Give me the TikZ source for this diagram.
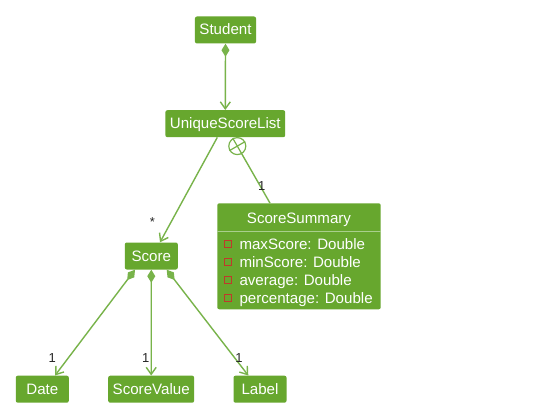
\documentclass[tikz,border=0pt]{standalone}
\usepackage{fontspec}
\setmainfont{Liberation Sans}
\usetikzlibrary{arrows.meta,positioning,calc}
\definecolor{umlg}{HTML}{67A72E}
\definecolor{lng}{HTML}{78B34A}
\definecolor{sepg}{HTML}{A9CF8C}
\definecolor{attrc}{HTML}{C0392B}
\newcommand{\clsfont}{\fontsize{15.1}{17}\selectfont}
\tikzset{
  cls/.style={rectangle, rounded corners=2pt, fill=umlg, text=white, font=\clsfont,
    minimum height=27pt, minimum width=53pt, inner xsep=4.5pt, inner ysep=0pt,
    text height=13pt, text depth=3pt},
  comp/.style={lng, line width=1.4pt,
    {Diamond[length=13pt,width=8pt]}-{Straight Barb[length=7pt,width=10pt]}},
  assoc/.style={lng, line width=1.4pt, -{Straight Barb[length=7pt,width=10pt]}},
  nestc/.style={circle, draw=lng, line width=1.2pt, fill=white, minimum size=17pt, inner sep=0pt},
  mult/.style={font=\fontsize{13}{15}\selectfont, text=black!85, inner sep=0pt},
  attrsq/.style={draw=attrc, line width=1.3pt, fill=umlg, minimum size=7pt, inner sep=0pt},
  attrtxt/.style={text=white, font=\clsfont, anchor=base west, inner sep=0pt},
}

\begin{document}
\begin{tikzpicture}[x=1pt,y=1pt]
 \fill[white] (0,0) rectangle (536,416);
 \useasboundingbox (0,0) rectangle (536,416);
 % classes
 \node[cls] (student) at (225.5,386) {Student};
 \node[cls] (usl) at (225.3,292.3) {UniqueScoreList};
 \node[cls] (score) at (151.3,160) {Score};
 \node[cls] (date) at (42.3,26.8) {Date};
 \node[cls] (sval) at (151.2,26.8) {ScoreValue};
 \node[cls] (lbl) at (260,26.8) {Label};
 % score summary with attributes
 \node[cls, minimum width=163.4pt, minimum height=106pt] (sum) at (299,159.7) {};
 \node[cls, fill=none] (sumtitle) at ([yshift=-15pt]sum.north) {ScoreSummary};
 \draw[sepg, line width=1.2pt] ([yshift=-28pt]sum.north west) -- ([yshift=-28pt]sum.north east);
 \foreach \attr [count=\i] in {maxScore,minScore,average,percentage} {
  \node[attrsq] (sq\i) at (228.3,{171.7-17.8*(\i-1)}) {};
  \node[attrtxt] (at\i) at (239.3,{166.3-17.8*(\i-1)}) {\attr: Double};
 }
 % connectors
 \draw[comp] (student.south) -- (usl.north);
 \draw[assoc] ([xshift=-8pt]usl.south) -- ([xshift=8.7pt]score.north);
 \node[nestc] (nest) at ($(usl.south)+(12pt,-8.7pt)$) {};
 \draw[lng, line width=1.2pt] (nest.-60) -- (nest.120) (nest.30) -- (nest.210);
 \draw[lng, line width=1.4pt] (nest.-60) -- ([xshift=-29pt]sum.north);
 \draw[comp] ([xshift=-16.3pt]score.south) -- ([xshift=12.7pt]date.north);
 \draw[comp] (score.south) -- (sval.north);
 \draw[comp] ([xshift=15.4pt]score.south) -- ([xshift=-11.7pt]lbl.north);
 % multiplicities
 \node[mult] (mstar) at (152.3,194.3) {*};
 \node[mult] (msum) at (261.7,230) {1};
 \node[mult] (mdate) at (52.3,58.3) {1};
 \node[mult] (msval) at (145.7,58.3) {1};
 \node[mult] (mlbl) at (239,58.3) {1};
\end{tikzpicture}
\end{document}
